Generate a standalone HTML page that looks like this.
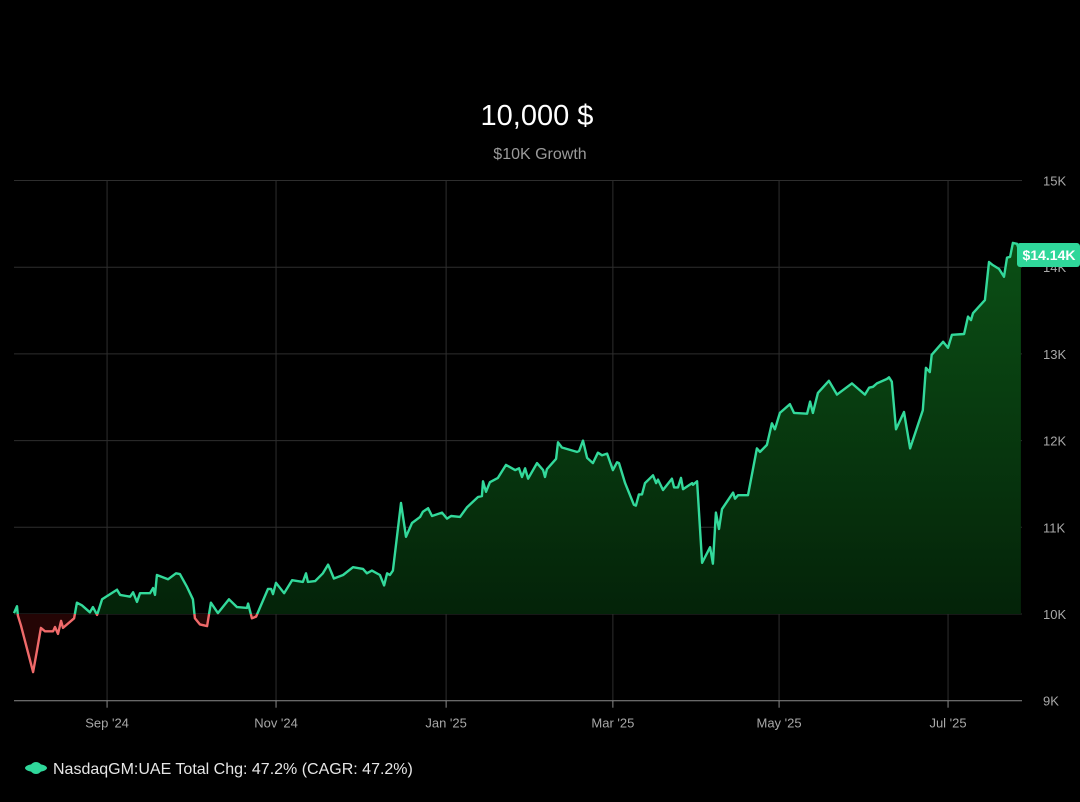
<!DOCTYPE html>
<html><head><meta charset="utf-8">
<style>
html,body{margin:0;padding:0;background:#000;}
body{width:1080px;height:797px;overflow:hidden;font-family:"Liberation Sans",sans-serif;}
</style></head>
<body>
<svg id="chart" width="1080" height="797" viewBox="0 0 1080 797" xmlns="http://www.w3.org/2000/svg">
<defs>
<linearGradient id="gfill" x1="0" y1="0" x2="0" y2="1">
<stop offset="0" stop-color="#0b4f15"/>
<stop offset="1" stop-color="#031c07"/>
</linearGradient>
<clipPath id="above"><rect x="0" y="0" width="1080" height="614"/></clipPath>
<clipPath id="below"><rect x="0" y="614" width="1080" height="200"/></clipPath>
</defs>
<text x="537" y="125" text-anchor="middle" fill="#fff" font-size="29">10,000 $</text>
<text x="540" y="159" text-anchor="middle" fill="#9a9a9a" font-size="16">$10K Growth</text>
<g id="grid"></g>
<g id="series"></g>
<g id="axes"></g>
<g>
<ellipse cx="36" cy="768" rx="11" ry="4" fill="#2fd79a"/>
<ellipse cx="36" cy="768" rx="6" ry="6" fill="#2fd79a"/>
<text x="53" y="774" fill="#e6e6e6" font-size="16">NasdaqGM:UAE Total Chg: 47.2% (CAGR: 47.2%)</text>
</g>
</svg>
<script>
const days = [0,1.1,1.4,2.5,6.9,8.3,9.7,11.2,14.1,14.8,15.9,17.0,17.7,21.7,22.7,24.5,27.4,28.5,30.0,31.8,37.2,38.3,41.9,43.0,44.4,45.5,49.1,50.2,50.9,51.6,55.6,58.5,59.9,62.5,64.6,65.3,67.1,69.7,71.1,73.6,77.6,80.5,84.1,84.5,85.9,87.4,91.7,92.8,93.5,94.6,97.5,100.4,104.3,105.4,106.1,108.7,111.5,113.4,115.5,118.8,122.4,126.0,127.4,129.2,132.1,133.6,134.7,135.7,136.8,139.7,141.5,143.7,146.6,147.6,149.5,150.9,154.5,156.3,157.8,161.0,163.5,167.5,168.9,169.3,170.4,171.8,174.7,177.6,180.9,182.3,183.4,184.5,185.6,188.8,191.0,191.7,192.4,195.7,196.4,197.8,203.2,204.0,205.4,206.9,209.0,210.8,212.3,214.1,216.2,217.7,218.4,220.6,223.8,224.5,225.6,226.7,227.8,230.7,231.8,232.5,234.3,237.5,238.3,239.7,240.8,241.5,244.8,245.1,246.6,248.4,251.3,252.3,253.4,254.5,255.6,259.6,260.3,261.4,265.0,268.2,269.3,271.8,273.6,274.7,276.5,280.1,281.6,286.3,287.4,288.4,290.2,294.2,297.1,302.5,307.2,308.7,310.1,311.5,315.1,315.9,316.9,318.4,321.3,323.5,328.1,329.2,330.6,331.3,335.4,337.2,338.6,343.0,344.4,345.5,346.2,350.5,352.0,353.1,355.6,357.4,358.5,359.6,360.6,362.1,363.5];
const values = [10010,10090,9980,9870,9330,9580,9840,9800,9800,9850,9770,9920,9840,9950,10130,10100,10020,10080,9990,10170,10280,10220,10200,10250,10140,10240,10240,10300,10220,10450,10400,10470,10460,10310,10170,9950,9880,9860,10130,10010,10170,10080,10070,10120,9950,9970,10290,10290,10230,10360,10240,10390,10370,10470,10370,10380,10470,10570,10410,10450,10540,10520,10470,10500,10450,10330,10470,10450,10500,11280,10890,11050,11120,11180,11220,11130,11170,11100,11130,11120,11230,11350,11360,11530,11410,11520,11570,11720,11660,11680,11580,11680,11560,11740,11660,11580,11670,11790,11980,11920,11870,11880,12000,11800,11740,11860,11830,11850,11660,11750,11740,11510,11260,11250,11380,11380,11510,11600,11510,11550,11430,11560,11460,11460,11570,11440,11510,11490,11530,10590,10770,10580,11170,10980,11210,11400,11330,11370,11370,11910,11870,11950,12200,12130,12320,12420,12320,12310,12450,12320,12550,12690,12530,12660,12530,12610,12620,12660,12710,12730,12680,12130,12330,11910,12350,12840,12790,12990,13140,13070,13220,13230,13430,13390,13470,13620,14060,14030,13980,13890,14110,14120,14280,14270,14140];
const yTicks = [9000,10000,11000,12000,13000,14000,15000];
const yTickLabels = ["9K","10K","11K","12K","13K","14K","15K"];
const xTickDays = [33.6,94.6,156.0,216.2,276.2,337.2];
const xTickLabels = ["Sep '24","Nov '24","Jan '25","Mar '25","May '25","Jul '25"];
const baseValue = 10000;
const lastLabel = "$14.14K";

const NS = "http://www.w3.org/2000/svg";
const X0 = 14, PXD = 2.77, XR = 1022;
const yScale = v => 614 - (v - 10000) * 0.0867;
const xScale = d => X0 + d * PXD;
function mk(tag, attrs, parent){const e=document.createElementNS(NS,tag);for(const k in attrs)e.setAttribute(k,attrs[k]);parent.appendChild(e);return e;}

const grid = document.getElementById('grid');
const axes = document.getElementById('axes');
const series = document.getElementById('series');
const yTop = yScale(yTicks[yTicks.length-1]), yBot = yScale(yTicks[0]);

yTicks.forEach((t,i)=>{
  const y = yScale(t);
  if (i>0) {
    const l = mk('line',{x1:X0,x2:XR,y1:y,y2:y,stroke:'#2e2e2e','stroke-width':1},grid);
    
    
  }
  const tx = mk('text',{x:1043,y:y+5,'text-anchor':'start',fill:'#a8a8a8','font-size':13},axes);
  tx.textContent = yTickLabels[i];
  
  
});
xTickDays.forEach((d,i)=>{
  const x = xScale(d);
  const l = mk('line',{x1:x,x2:x,y1:yTop,y2:yBot,stroke:'#2e2e2e','stroke-width':1},grid);
  
  
  const tk = mk('line',{x1:x,x2:x,y1:yBot,y2:yBot+7,stroke:'#8a8a8a','stroke-width':1},axes);
  
  
  const tx = mk('text',{x:x,y:yBot+27,'text-anchor':'middle',fill:'#a8a8a8','font-size':13},axes);
  tx.textContent = xTickLabels[i];
  
  
});
const xa = mk('line',{x1:X0,x2:XR,y1:yBot,y2:yBot,stroke:'#8a8a8a','stroke-width':1},axes);



const pts = days.map((d,i)=>[xScale(d), yScale(values[i])]);
const lineD = 'M' + pts.map(p=>p[0].toFixed(1)+','+p[1].toFixed(1)).join('L');
const by = yScale(baseValue);
const areaD = lineD + 'L' + pts[pts.length-1][0].toFixed(1) + ',' + by + 'L' + pts[0][0].toFixed(1) + ',' + by + 'Z';
const fa = mk('path',{d:areaD,fill:'url(#gfill)','clip-path':'url(#above)'},series);


const fb = mk('path',{d:areaD,fill:'#240505','clip-path':'url(#below)'},series);


const la = mk('path',{d:lineD,fill:'none',stroke:'#33d99b','stroke-width':2.4,'stroke-linejoin':'round','clip-path':'url(#above)'},series);


const lb = mk('path',{d:lineD,fill:'none',stroke:'#f06a6a','stroke-width':2.4,'stroke-linejoin':'round','clip-path':'url(#below)'},series);



const ly = yScale(values[values.length-1]);
const badge = mk('rect',{x:1017,y:ly-12,width:63,height:24,rx:3,fill:'#2fd79a'},axes);


const bt = mk('text',{x:1049,y:ly+5,'text-anchor':'middle',fill:'#fff','font-size':14,'font-weight':'bold'},axes);
bt.textContent = lastLabel;


</script>
</body></html>
